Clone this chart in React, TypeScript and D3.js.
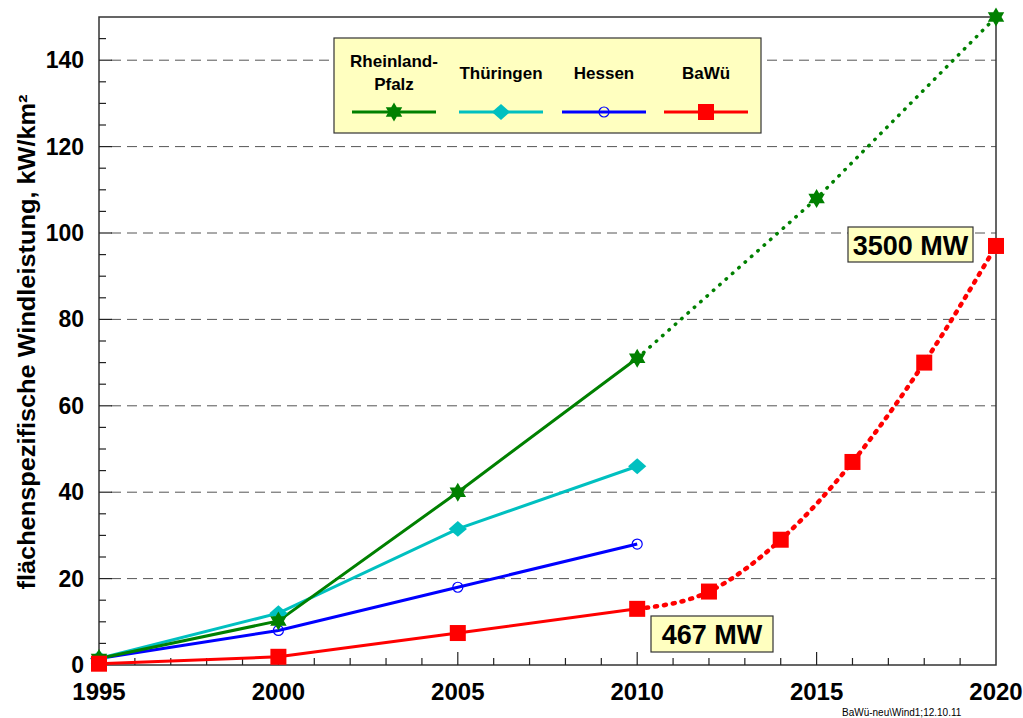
import { useEffect, useRef } from "react"
import * as d3 from "d3"

// data
const rlpYears = [1995, 2000, 2005, 2010]
const rlpValues = [1.5, 10.2, 40, 71]
const rlpForecastYears = [2010, 2015, 2020]
const rlpForecastValues = [71, 108, 150]

const thYears = [1995, 2000, 2005, 2010]
const thValues = [1.5, 12, 31.5, 46]

const heYears = [1995, 2000, 2005, 2010]
const heValues = [1.5, 8, 18, 28]

const bwYears = [1995, 2000, 2005, 2010]
const bwValues = [0.3, 1.9, 7.4, 13]
const bwForecastYears = [2010, 2012, 2014, 2016, 2018, 2020]
const bwForecastValues = [13, 17, 29, 47, 70, 97]

const xTicks = [1995, 2000, 2005, 2010, 2015, 2020]
const yTicks = [0, 20, 40, 60, 80, 100, 120, 140]

const legendNames = [["Rheinland-", "Pfalz"], ["Thüringen"], ["Hessen"], ["BaWü"]]
const legendColors = ["#008000", "#00c0c0", "#0000ff", "#ff0000"]
const legendSymbols = ["star", "diamond", "circle", "square"]

const FONT = "Arial, 'Liberation Sans', sans-serif"

function starPath(r: number) {
  const pts: [number, number][] = []
  for (let i = 0; i < 12; i++) {
    const a = (Math.PI / 6) * i - Math.PI / 2
    const rr = i % 2 === 0 ? r : r * 0.58
    pts.push([Math.cos(a) * rr, Math.sin(a) * rr])
  }
  return d3.line()(pts) + "Z"
}

export default function App() {
  const svgRef = useRef<SVGSVGElement>(null)

  useEffect(() => {
    if (!svgRef.current) return
    const svg = d3.select(svgRef.current)
    svg.selectAll("*").remove()

    const x = d3.scaleLinear().domain([1995, 2020]).range([99, 996])
    const y = d3.scaleLinear().domain([0, 150]).range([665, 17])

    const drawMarker = (g: any, kind: string, cx: number, cy: number, color: string) => {
      if (kind === "star") {
        g.append("path").attr("d", starPath(9.5)).attr("transform", `translate(${cx},${cy})`).attr("fill", color)
      } else if (kind === "diamond") {
        g.append("path")
          .attr("d", d3.symbol(d3.symbolDiamond2, 160)())
          .attr("transform", `translate(${cx},${cy}) scale(1.15,1)`)
          .attr("fill", color)
      } else if (kind === "circle") {
        g.append("circle").attr("cx", cx).attr("cy", cy).attr("r", 5).attr("fill", "none").attr("stroke", color).attr("stroke-width", 1.2)
      } else {
        g.append("rect").attr("x", cx - 8).attr("y", cy - 8).attr("width", 16).attr("height", 16).attr("fill", color)
      }
    }

    // grid
    svg
      .append("g")
      .selectAll("line")
      .data(yTicks.filter((d) => d > 0))
      .enter()
      .append("line")
      .attr("x1", 111)
      .attr("x2", 996)
      .attr("y1", (d) => y(d))
      .attr("y2", (d) => y(d))
      .attr("stroke", "#555")
      .attr("stroke-width", 1)
      .attr("stroke-dasharray", "10 6")

    // frame
    svg.append("rect").attr("x", 99).attr("y", 17).attr("width", 897).attr("height", 648).attr("fill", "none").attr("stroke", "#333").attr("stroke-width", 1.5)

    // minor / major ticks
    const ax = svg.append("g").attr("stroke", "#222").attr("stroke-width", 1.2)
    d3.range(1996, 2020).forEach((t) => {
      const major = t % 5 === 0
      ax.append("line").attr("x1", x(t)).attr("x2", x(t)).attr("y1", 665).attr("y2", major ? 652 : 658)
    })
    d3.range(5, 150, 5).forEach((t) => {
      const major = t % 20 === 0
      ax.append("line").attr("x1", 99).attr("x2", major ? 112 : 106).attr("y1", y(t)).attr("y2", y(t))
    })

    // tick labels
    svg
      .append("g")
      .selectAll("text")
      .data(yTicks)
      .enter()
      .append("text")
      .attr("x", 84)
      .attr("y", (d) => y(d) + 8)
      .attr("text-anchor", "end")
      .attr("font-family", FONT)
      .attr("font-weight", "bold")
      .attr("font-size", 23)
      .text((d) => d)

    svg
      .append("g")
      .selectAll("text")
      .data(xTicks)
      .enter()
      .append("text")
      .attr("x", (d) => x(d))
      .attr("y", 700)
      .attr("text-anchor", "middle")
      .attr("font-family", FONT)
      .attr("font-weight", "bold")
      .attr("font-size", 24)
      .text((d) => d)

    svg
      .append("text")
      .attr("transform", `translate(35,342) rotate(-90)`)
      .attr("text-anchor", "middle")
      .attr("font-family", FONT)
      .attr("font-weight", "bold")
      .attr("font-size", 23)
      .attr("textLength", 495)
      .attr("lengthAdjust", "spacingAndGlyphs")
      .text("flächenspezifische Windleistung, kW/km²")

    // lines
    const line = d3
      .line<[number, number]>()
      .x((d) => x(d[0]))
      .y((d) => y(d[1]))
    const curve = d3
      .line<[number, number]>()
      .x((d) => x(d[0]))
      .y((d) => y(d[1]))
      .curve(d3.curveMonotoneX)

    const zip = (a: number[], b: number[]) => a.map((v, i) => [v, b[i]] as [number, number])

    const lines = svg.append("g").attr("fill", "none")
    lines.append("path").attr("d", line(zip(rlpForecastYears, rlpForecastValues))).attr("stroke", "#008000").attr("stroke-width", 3.5).attr("stroke-dasharray", "0.5 8").attr("stroke-linecap", "round")
    lines.append("path").attr("d", curve(zip(bwForecastYears, bwForecastValues))).attr("stroke", "#ff0000").attr("stroke-width", 4.5).attr("stroke-dasharray", "2 7").attr("stroke-linecap", "round")
    lines.append("path").attr("d", line(zip(bwYears, bwValues))).attr("stroke", "#ff0000").attr("stroke-width", 3)
    lines.append("path").attr("d", line(zip(heYears, heValues))).attr("stroke", "#0000ff").attr("stroke-width", 3)
    lines.append("path").attr("d", line(zip(thYears, thValues))).attr("stroke", "#00c0c0").attr("stroke-width", 3)
    lines.append("path").attr("d", line(zip(rlpYears, rlpValues))).attr("stroke", "#008000").attr("stroke-width", 3)

    // markers
    const mk = svg.append("g")
    heYears.forEach((t, i) => drawMarker(mk, "circle", x(t), y(heValues[i]), "#0000ff"))
    thYears.forEach((t, i) => drawMarker(mk, "diamond", x(t), y(thValues[i]), "#00c0c0"))
    rlpYears.forEach((t, i) => drawMarker(mk, "star", x(t), y(rlpValues[i]), "#008000"))
    rlpForecastYears.slice(1).forEach((t, i) => drawMarker(mk, "star", x(t), y(rlpForecastValues[i + 1]), "#008000"))
    bwYears.forEach((t, i) => drawMarker(mk, "square", x(t), y(bwValues[i]), "#ff0000"))
    bwForecastYears.slice(1).forEach((t, i) => drawMarker(mk, "square", x(t), y(bwForecastValues[i + 1]), "#ff0000"))

    // legend
    const lg = svg.append("g")
    lg.append("rect").attr("x", 334).attr("y", 38).attr("width", 427).attr("height", 95).attr("fill", "#ffffc0").attr("stroke", "#333").attr("stroke-width", 1.2)
    const centers = [394, 501, 604, 706]
    legendNames.forEach((names, i) => {
      const cx = centers[i]
      names.forEach((n, j) => {
        lg.append("text")
          .attr("x", cx)
          .attr("y", names.length === 2 ? 67 + j * 23 : 79)
          .attr("text-anchor", "middle")
          .attr("font-family", FONT)
          .attr("font-weight", "bold")
          .attr("font-size", 17)
          .text(n)
      })
      lg.append("line").attr("x1", cx - 42).attr("x2", cx + 42).attr("y1", 112).attr("y2", 112).attr("stroke", legendColors[i]).attr("stroke-width", 3)
      drawMarker(lg, legendSymbols[i], cx, 112, legendColors[i])
    })

    // annotations
    const note = (bx: number, by: number, w: number, h: number, label: string) => {
      svg.append("rect").attr("x", bx).attr("y", by).attr("width", w).attr("height", h).attr("fill", "#ffffc0").attr("stroke", "#333").attr("stroke-width", 1.2)
      svg.append("text")
        .attr("x", bx + w / 2)
        .attr("y", by + h / 2 + 10)
        .attr("text-anchor", "middle")
        .attr("font-family", FONT)
        .attr("font-weight", "bold")
        .attr("font-size", 27)
        .text(label)
    }
    note(651, 616, 122, 36, "467 MW")
    note(848, 227, 125, 35, "3500 MW")

    svg.append("text")
      .attr("x", 842)
      .attr("y", 716)
      .attr("font-family", FONT)
      .attr("font-size", 10)
      .text("BaWü-neu\\Wind1;12.10.11")
  }, [])

  return (
    <svg
      ref={svgRef}
      width={1023}
      height={718}
      style={{ position: "absolute", left: 0, top: 0, background: "white" }}
    />
  )
}
